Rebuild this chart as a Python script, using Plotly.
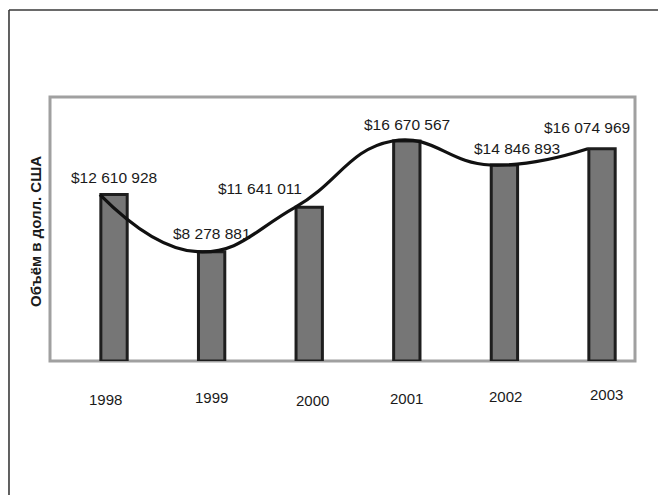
import plotly.graph_objects as go

# Annual volume, USD
years = [1998, 1999, 2000, 2001, 2002, 2003]
volumes = [12610928, 8278881, 11641011, 16670567, 14846893, 16074969]
year_labels = ["1998", "1999", "2000", "2001", "2002", "2003"]
y_title = "Объём в долл. США"

# label nudges (px) so value labels clear the trend line
value_dx = [0, 0, -49, 0, 13, -15]
value_dy = [17, 18, 19, 16, 17, 21]
# year label nudges (px) below the axis
year_dx = [-9, 0, 3, 0, 1, 4]
year_dy = [-38, -36, -39, -37, -35, -33]

BAR_W = 0.27
FONT = "Liberation Sans, Arial, sans-serif"


def money(v):
    return "$" + f"{v:,}".replace(",", " ")


fig = go.Figure()

fig.add_trace(go.Bar(
    x=years, y=volumes, width=BAR_W,
    marker=dict(color="#767676", line=dict(color="#1e1e1e", width=3)),
    hoverinfo="skip",
))

# smoothed trend through the bar tops, anchored at each bar's left edge
fig.add_trace(go.Scatter(
    x=[y - BAR_W / 2 - 0.01 for y in years], y=volumes,
    mode="lines", line=dict(color="#111111", width=3.2, shape="spline", smoothing=1.3),
    hoverinfo="skip",
))

annotations = []
for yr, v, dx, dy in zip(years, volumes, value_dx, value_dy):
    annotations.append(dict(
        x=yr, y=v, xref="x", yref="y", text=money(v), showarrow=False,
        xanchor="center", yanchor="middle", xshift=dx, yshift=dy,
        font=dict(family=FONT, size=15.5, color="#1a1a1a"),
    ))
for yr, lab, dx, dy in zip(years, year_labels, year_dx, year_dy):
    annotations.append(dict(
        x=yr, y=0, xref="x", yref="paper", text=lab, showarrow=False,
        xanchor="center", yanchor="middle", xshift=dx, yshift=dy,
        font=dict(family=FONT, size=15, color="#1a1a1a"),
    ))
annotations.append(dict(
    x=0, y=0.5, xref="paper", yref="paper", text="<b>" + y_title + "</b>",
    showarrow=False, textangle=-90, xanchor="center", yanchor="middle",
    xshift=-15, yshift=-3, font=dict(family=FONT, size=15, color="#1a1a1a"),
))

shapes = [
    # plot frame
    dict(type="rect", xref="paper", yref="paper", x0=0, y0=0, x1=1, y1=1,
         line=dict(color="#a0a0a0", width=3), layer="below"),
    # outer page frame (top and left edges)
    dict(type="line", xref="paper", yref="paper", x0=-0.0701, x1=1.2,
         y0=1.3295, y1=1.3295, line=dict(color="#6a6a6a", width=2)),
    dict(type="line", xref="paper", yref="paper", x0=-0.0701, x1=-0.0701,
         y0=1.3295, y1=-0.7, line=dict(color="#3a3a3a", width=1.6)),
]

fig.update_layout(
    width=658, height=495,
    margin=dict(l=50, r=23, t=97, b=134),
    paper_bgcolor="white", plot_bgcolor="white",
    showlegend=False,
    xaxis=dict(range=[1997.344, 2003.338], showgrid=False, zeroline=False,
               showticklabels=False, ticks="", fixedrange=True),
    yaxis=dict(range=[0, 20000000], showgrid=False, zeroline=False,
               showticklabels=False, ticks="", fixedrange=True),
    annotations=annotations,
    shapes=shapes,
)

fig.write_html("out.html", config={"displayModeBar": False})
